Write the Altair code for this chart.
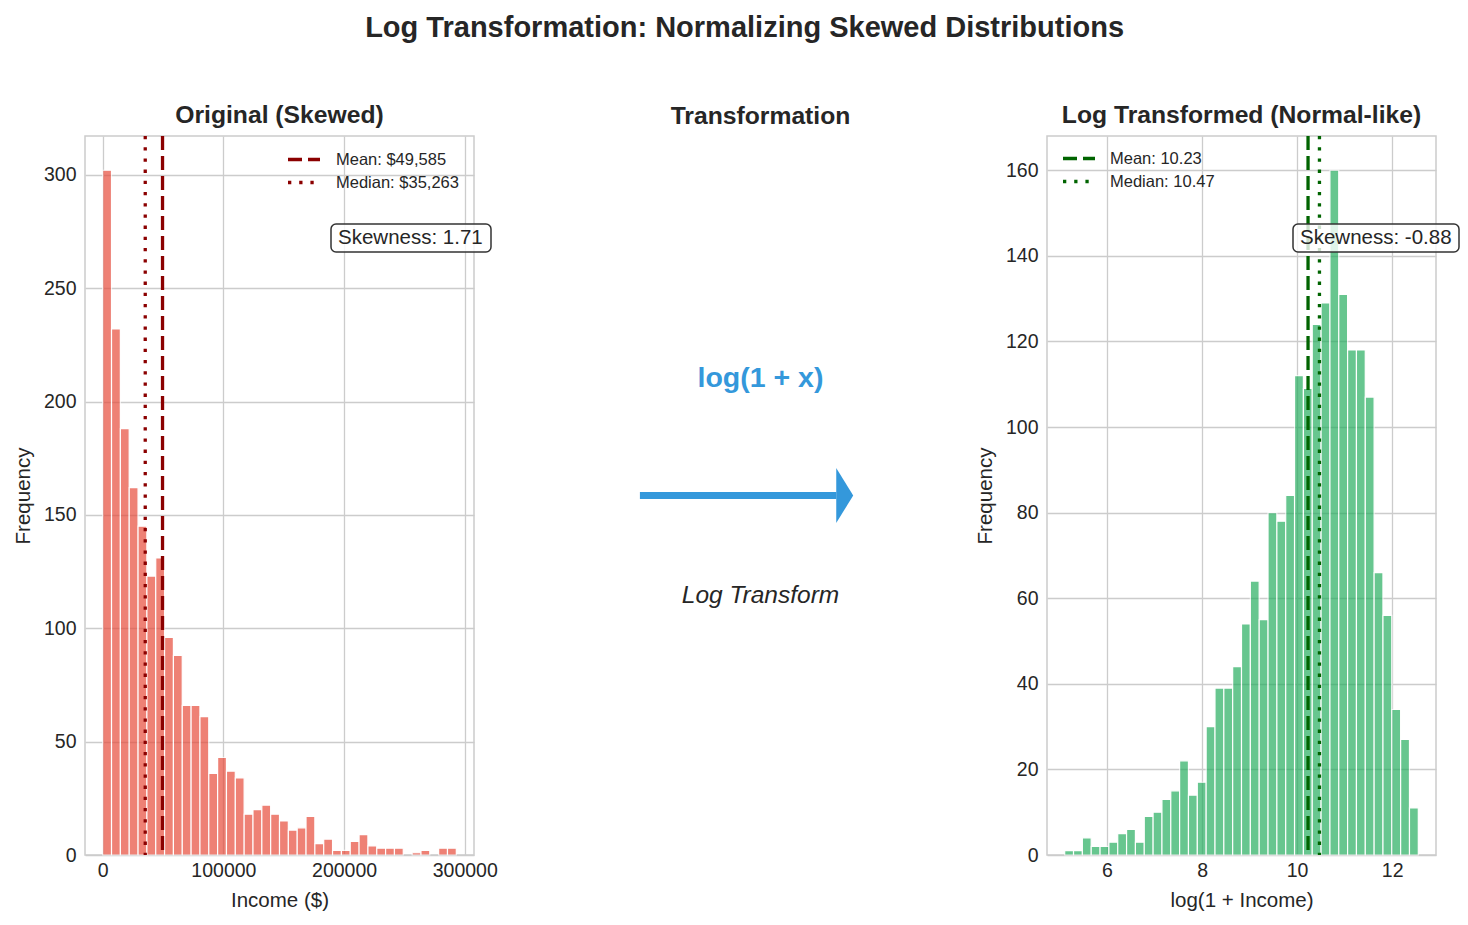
import altair as alt
import pandas as pd

FONT = "Liberation Sans"
INK = "#262626"
GRID = "#cccccc"
BLUE = "#3498db"

# ---- histogram counts (equal-width bins between lo and hi) ----
income_counts = [302, 232, 188, 162, 145, 123, 131, 96, 88, 66,
                 66, 61, 36, 43, 37, 34, 18, 20, 22, 18,
                 15, 11, 12, 17, 5, 7, 2, 2, 6, 9,
                 4, 3, 3, 3, 0, 1, 2, 0, 3, 3]
income_range = [0, 293000]

log_counts = [1, 1, 4, 2, 2, 3, 5, 6, 3, 9,
              10, 13, 15, 22, 14, 17, 30, 39, 39, 44,
              54, 64, 55, 80, 78, 84, 112, 109, 124, 129,
              160, 131, 118, 118, 107, 66, 56, 34, 27, 11]
log_range = [5.11, 12.55]

# ---- summary statistics ----
income_stat_labels = ["Mean: $49,585", "Median: $35,263"]
income_stat_values = [49585, 35263]
log_stat_labels = ["Mean: 10.23", "Median: 10.47"]
log_stat_values = [10.23, 10.47]
income_skew = 1.71
log_skew = -0.88

# ---- tick values ----
income_xticks = [0, 100000, 200000, 300000]
income_yticks = [0, 50, 100, 150, 200, 250, 300]
log_xticks = [6, 8, 10, 12]
log_yticks = [0, 20, 40, 60, 80, 100, 120, 140, 160]

PW, PH = 389, 719
DASHES = [[14, 6], [3.3, 7.9]]


def panel_title(text):
    return alt.TitleParams(text, font=FONT, fontSize=24.7, fontWeight="bold",
                           color=INK, anchor="middle", frame="group",
                           baseline="alphabetic", offset=-13)


def hist_panel(counts, rng, bar_color, line_color, stat_labels, stat_values,
               skew, title, xlabel, xticks, yticks, legend_orient,
               legend_offset, legend_gap, box_right):
    lo, hi = rng
    n = len(counts)
    w = (hi - lo) / n
    bins = pd.DataFrame({
        "start": [lo + i * w for i in range(n)],
        "end": [lo + (i + 1) * w for i in range(n)],
        "count": counts,
        "base": [0] * n,
    })
    bins = bins[bins["count"] > 0]

    margin = 0.05 * (hi - lo)
    xscale = alt.Scale(domain=[lo - margin, hi + margin], nice=False, zero=False)
    yscale = alt.Scale(domain=[0, max(counts) * 1.05], nice=False, zero=False)
    xaxis = alt.Axis(values=xticks, format="d", labelFlush=False,
                     labelOverlap=False, labelPadding=6.5, titlePadding=10)
    yaxis = alt.Axis(values=yticks, format="d", labelPadding=9, titlePadding=10)

    bars = alt.Chart(bins).mark_bar(
        color=bar_color, opacity=0.7, stroke="white", strokeWidth=1.2
    ).encode(
        x=alt.X("start:Q", scale=xscale, axis=xaxis, title=xlabel),
        x2="end:Q",
        y=alt.Y("count:Q", scale=yscale, axis=yaxis, title="Frequency"),
        y2="base:Q",
    )

    stats = pd.DataFrame({"label": stat_labels, "value": stat_values})
    rules = alt.Chart(stats).mark_rule(color=line_color, strokeWidth=3.3).encode(
        x=alt.X("value:Q", scale=xscale, axis=xaxis, title=xlabel),
        strokeDash=alt.StrokeDash(
            "label:N",
            scale=alt.Scale(domain=stat_labels, range=DASHES),
            legend=alt.Legend(
                title=None, orient=legend_orient, offset=legend_offset,
                padding=0, symbolType="stroke", symbolSize=1024,
                symbolStrokeWidth=3.3, symbolStrokeColor=line_color,
                labelFont=FONT, labelFontSize=16.5, labelColor=INK,
                labelOffset=legend_gap, clipHeight=17, rowPadding=6,
            ),
        ),
    )

    note = pd.DataFrame({"t": [f"Skewness: {skew:.2f}"]})
    box = alt.Chart(note).mark_rect(
        fill="white", fillOpacity=0.8, stroke="#333333", strokeWidth=1.5,
        cornerRadius=5
    ).encode(x=alt.value(246), x2=alt.value(box_right),
             y=alt.value(88), y2=alt.value(116))
    label = alt.Chart(note).mark_text(
        align="left", baseline="middle", font=FONT, fontSize=20.5, color=INK
    ).encode(x=alt.value(253), y=alt.value(102), text="t:N")

    return alt.layer(bars, rules, box, label).properties(
        width=PW, height=PH, title=panel_title(title),
        view=alt.ViewBackground(stroke=GRID, strokeWidth=1.5),
    )


left = hist_panel(income_counts, income_range, "#e74c3c", "#8b0000",
                  income_stat_labels, income_stat_values, income_skew,
                  "Original (Skewed)", "Income ($)", income_xticks,
                  income_yticks, "top-right", 15, 14, 406)
right = hist_panel(log_counts, log_range, "#27ae60", "#006400",
                   log_stat_labels, log_stat_values, log_skew,
                   "Log Transformed (Normal-like)", "log(1 + Income)",
                   log_xticks, log_yticks, "top-left", 14, 13, 412)

# ---- middle panel: arrow and captions in axes-fraction coordinates ----
unit_x = alt.Scale(domain=[0, 1], nice=False, zero=False)
unit_y = alt.Scale(domain=[0, 1], nice=False, zero=False)

shaft_df = pd.DataFrame({"x": [0.19], "x2": [0.695], "y": [0.5]})
head_df = pd.DataFrame({"x": [0.7165], "y": [0.5]})
caption_df = pd.DataFrame({"x": [0.5], "y": [0.663], "t": ["log(1 + x)"]})
sub_df = pd.DataFrame({"x": [0.5], "y": [0.36], "t": ["Log Transform"]})

shaft = alt.Chart(shaft_df).mark_rule(color=BLUE, strokeWidth=7).encode(
    x=alt.X("x:Q", scale=unit_x, axis=None),
    x2="x2:Q",
    y=alt.Y("y:Q", scale=unit_y, axis=None),
)
head = alt.Chart(head_df).mark_point(
    shape="M-0.309,-1L0.309,0L-0.309,1Z", filled=True, size=3025,
    color=BLUE, opacity=1, strokeWidth=0
).encode(
    x=alt.X("x:Q", scale=unit_x, axis=None),
    y=alt.Y("y:Q", scale=unit_y, axis=None),
)
caption = alt.Chart(caption_df).mark_text(
    font=FONT, fontSize=28.5, fontWeight="bold", color=BLUE,
    align="center", baseline="middle"
).encode(
    x=alt.X("x:Q", scale=unit_x, axis=None),
    y=alt.Y("y:Q", scale=unit_y, axis=None),
    text="t:N",
)
subcaption = alt.Chart(sub_df).mark_text(
    font=FONT, fontSize=24.5, fontStyle="italic", color=INK,
    align="center", baseline="middle"
).encode(
    x=alt.X("x:Q", scale=unit_x, axis=None),
    y=alt.Y("y:Q", scale=unit_y, axis=None),
    text="t:N",
)
middle = alt.layer(shaft, head, caption, subcaption).properties(
    width=PW, height=PH, title=panel_title("Transformation"),
    view=alt.ViewBackground(strokeOpacity=0),
)

inner = alt.hconcat(left, middle, spacing=67).resolve_scale(
    strokeDash="independent").resolve_legend(strokeDash="independent")

chart = alt.hconcat(inner, right, spacing=19).resolve_scale(
    strokeDash="independent").resolve_legend(strokeDash="independent"
).properties(
    title=alt.TitleParams(
        "Log Transformation: Normalizing Skewed Distributions",
        font=FONT, fontSize=29, fontWeight="bold", color=INK,
        anchor="middle", offset=59, dx=8,
    ),
    padding={"left": 12, "top": 13, "right": 5, "bottom": 5},
    background="white",
).configure_view(
    stroke="transparent"
).configure_axis(
    labelFont=FONT, titleFont=FONT, labelColor=INK, titleColor=INK,
    labelFontSize=19.5, titleFontSize=20.5, titleFontWeight="normal",
    gridColor=GRID, gridWidth=1.3, domain=False, ticks=False,
)

chart.save("out.html", embed_options={"renderer": "svg", "actions": False})
